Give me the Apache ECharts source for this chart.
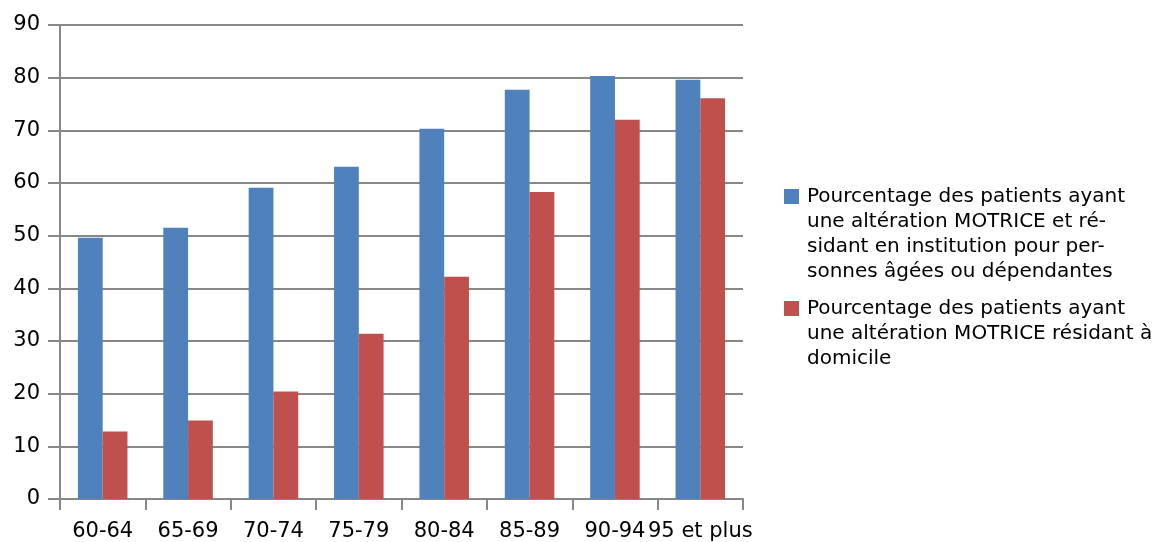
<!DOCTYPE html>
<html>
<head>
  <meta charset="utf-8">
  <title>Altération motrice par âge</title>
  <script src="https://cdn.jsdelivr.net/npm/echarts@6/dist/echarts.min.js"></script>
  <style>
    html, body { margin: 0; padding: 0; background: #fff; }
    #chart { width: 1171px; height: 542px; }
  </style>
</head>
<body>
<div id="chart"></div>
<script>
  // catégories d'âge
  var categories = ['60-64', '65-69', '70-74', '75-79', '80-84', '85-89', '90-94', '95 et plus'];
  // % patients en institution
  var institution = [49.6, 51.5, 59.1, 63.1, 70.3, 77.7, 80.3, 79.6];
  // % patients à domicile
  var domicile = [12.8, 14.9, 20.4, 31.4, 42.2, 58.3, 72.0, 76.1];
  var yTicks = [0, 10, 20, 30, 40, 50, 60, 70, 80, 90];

  var nameInst = 'Pourcentage des patients ayant\nune altération MOTRICE et ré-\nsidant en institution pour per-\nsonnes âgées ou dépendantes';
  var nameDom = 'Pourcentage des patients ayant\nune altération MOTRICE résidant à\ndomicile';

  var font = 'DejaVu Sans';
  var gridColor = '#878787';

  // le carré de légende doit rester sur la 1re ligne : on ajoute des lignes vides au-dessus
  function topAligned(name) {
    var n = name.split('\n').length;
    return new Array(n).join('\n') + name;
  }

  function legendFor(name, top) {
    return {
      data: [name],
      left: 784, top: top, padding: 0,
      icon: 'rect', itemWidth: 15, itemHeight: 15,
      formatter: topAligned,
      textStyle: { fontFamily: font, fontSize: 20, lineHeight: 25, color: '#000', padding: [0, 0, 0, 3] }
    };
  }

  var myChart = echarts.init(document.getElementById('chart'));
  var option = {
    animation: false,
    grid: { left: 60, right: 428, top: 25, bottom: 43 },
    legend: [legendFor(nameInst, 109), legendFor(nameDom, 246)],
    xAxis: {
      type: 'category',
      data: categories,
      axisLine: { lineStyle: { color: gridColor, width: 2 } },
      axisTick: { show: true, length: 11, lineStyle: { color: gridColor, width: 2 } },
      axisLabel: { fontFamily: font, fontSize: 21, color: '#000', margin: 22, interval: 0 }
    },
    yAxis: {
      type: 'value',
      min: yTicks[0], max: yTicks[yTicks.length - 1], interval: 10,
      axisLine: { show: true, lineStyle: { color: gridColor, width: 2 } },
      axisTick: { show: true, length: 12, lineStyle: { color: gridColor, width: 2 } },
      axisLabel: { fontFamily: font, fontSize: 21, color: '#000', margin: 20 },
      splitLine: { lineStyle: { color: gridColor, width: 2 } }
    },
    series: [
      {
        name: nameInst, type: 'bar', data: institution,
        itemStyle: { color: '#4F81BD' },
        barGap: '0%', barCategoryGap: '42%'
      },
      {
        name: nameDom, type: 'bar', data: domicile,
        itemStyle: { color: '#C0504D' },
        barGap: '0%', barCategoryGap: '42%'
      }
    ]
  };
  myChart.setOption(option);

  window.onresize = function () {
    myChart.resize();
  };
</script>
</body>
</html>
